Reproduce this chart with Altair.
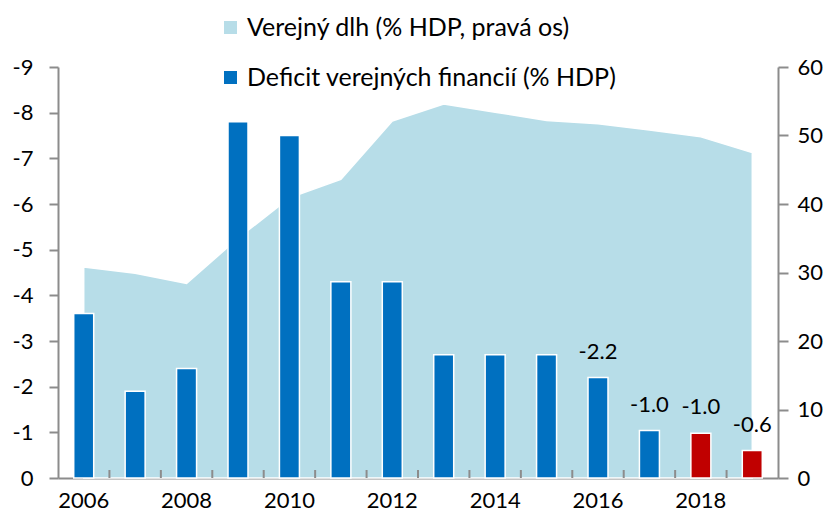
import altair as alt
import pandas as pd

years = list(range(2006, 2020))
deficit = [-3.6, -1.9, -2.4, -7.8, -7.5, -4.3, -4.3, -2.7, -2.7, -2.7, -2.2, -1.04, -0.98, -0.6]
debt = [30.8, 29.9, 28.4, 35.0, 40.9, 43.6, 52.1, 54.6, 53.4, 52.2, 51.7, 50.8, 49.8, 47.5]
labels = ["", "", "", "", "", "", "", "", "", "", "-2.2", "-1.0", "-1.0", "-0.6"]
bar_series = ["Deficit verejných financií (% HDP)"] * 12 + ["Prognóza"] * 2

S_DEBT = "Verejný dlh (% HDP, pravá os)"
S_DEF = "Deficit verejných financií (% HDP)"
S_FC = "Prognóza"

df = pd.DataFrame({
    "year": years,
    "deficit": deficit,
    "debt": debt,
    "label": labels,
    "series": bar_series,
    "debt_series": [S_DEBT] * len(years),
})

FONT = "Lato"
FS = 22
W, H = 720, 411

color_scale = alt.Scale(domain=[S_DEBT, S_DEF, S_FC], range=["#B7DDE8", "#0070C0", "#C00000"])

x_enc = alt.X(
    "year:O",
    title=None,
    scale=alt.Scale(paddingInner=0, paddingOuter=0),
    axis=alt.Axis(
        labelExpr="datum.value % 2 == 0 ? datum.value : ''",
        labelAngle=0, tickSize=0, labelPadding=12, labelFontSize=FS,
        domainColor="#8c8c8c", domainWidth=2, labelFont=FONT, labelColor="#000",
    ),
)

left_y = alt.Y("deficit:Q", title=None, scale=alt.Scale(domain=[-9, 0], reverse=True),
               axis=alt.Axis(orient="left", values=list(range(-9, 1)), grid=False,
                             labelExpr="datum.value == 0 ? '0' : '-' + abs(datum.value)",
                             tickSize=9, tickColor="#8c8c8c", tickWidth=2,
                             domainColor="#8c8c8c", domainWidth=2, labelPadding=16,
                             labelFontSize=FS, labelFont=FONT, labelColor="#000"))

area = alt.Chart(df).mark_area(stroke="white", strokeWidth=1.5, opacity=1).encode(
    x=x_enc,
    y=alt.Y("debt:Q", title=None, scale=alt.Scale(domain=[0, 60]),
            axis=alt.Axis(orient="right", values=[0, 10, 20, 30, 40, 50, 60], grid=False,
                          tickSize=10, tickColor="#8c8c8c", tickWidth=2,
                          domainColor="#8c8c8c", domainWidth=2, labelPadding=9,
                          labelFontSize=FS, labelFont=FONT, labelColor="#000")),
    color=alt.Color("debt_series:N", scale=color_scale, title=None,
                    legend=alt.Legend(values=[S_DEBT, S_DEF], orient="none",
                                      legendX=160, legendY=-52, symbolType="square",
                                      symbolSize=169, labelFontSize=25, labelFont=FONT,
                                      labelColor="#000", rowPadding=24, labelOffset=4,
                                      labelLimit=0, symbolStrokeWidth=0)),
)

bars = alt.Chart(df).mark_bar(size=20, stroke="white", strokeWidth=1.5).encode(
    x=x_enc,
    y=left_y,
    color=alt.Color("series:N", scale=color_scale, title=None),
)

text = alt.Chart(df).mark_text(fontSize=FS, font=FONT, dy=-26, baseline="middle", color="#000").encode(
    x=x_enc,
    y=left_y,
    text="label:N",
)

ticks = alt.Chart(df[df["year"] < 2019]).mark_rule(color="#8c8c8c", strokeWidth=2).encode(
    x=alt.X("year:O", bandPosition=1),
    y=alt.value(H - 8),
    y2=alt.value(H),
)

left = alt.layer(bars, text)
chart = alt.layer(area, left, ticks).resolve_scale(y="independent").properties(
    width=W, height=H,
    autosize=alt.AutoSizeParams(type="none"),
    padding={"left": 50, "top": 59, "right": 48, "bottom": 37},
).configure_view(stroke=None)

chart.save("out.html", embed_options={"renderer": "svg", "actions": False})
